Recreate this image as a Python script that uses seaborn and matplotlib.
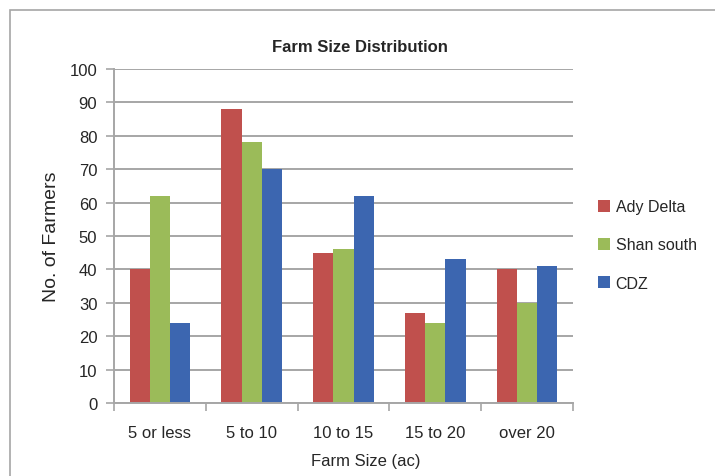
import pandas as pd
import matplotlib.pyplot as plt
import seaborn as sns
from matplotlib.patches import Rectangle

# --- data ---
categories = ["5 or less", "5 to 10", "10 to 15", "15 to 20", "over 20"]
ady_delta = [40, 88, 45, 27, 40]
shan_south = [62, 78, 46, 24, 30]
cdz = [24, 70, 62, 43, 41]
series_names = ["Ady Delta", "Shan south", "CDZ"]
colors = ["#C0504D", "#9BBB59", "#3C66B0"]
y_ticks = list(range(0, 101, 10))

df = pd.DataFrame({
    "Farm Size": categories * 3,
    "Region": [s for s in series_names for _ in categories],
    "Farmers": ady_delta + shan_south + cdz,
})

sns.set_theme(style="white")
plt.rcParams['font.family'] = ['Liberation Sans Narrow', 'Liberation Sans', 'DejaVu Sans']

fig = plt.figure(figsize=(7.15, 4.77), dpi=100)
ax = fig.add_axes([114 / 715, 1 - 404 / 477, (573 - 114) / 715, (404 - 70) / 477])

sns.barplot(data=df, x="Farm Size", y="Farmers", hue="Region", order=categories,
            hue_order=series_names, palette=colors, width=0.66, saturation=1,
            edgecolor="none", ax=ax, legend=True)

# grid + axes styling like the old Excel chart
ax.set_ylim(0, 100)
ax.set_yticks(y_ticks)
ax.yaxis.grid(True, color="#A6A6A6", linewidth=1.4)
ax.set_axisbelow(True)
for side in ["top", "right"]:
    ax.spines[side].set_visible(False)
for side in ["left", "bottom"]:
    ax.spines[side].set_color("#A6A6A6")
    ax.spines[side].set_linewidth(1.4)

ax.set_xlim(-0.5, len(categories) - 0.5)
ax.set_xticks([i - 0.5 for i in range(len(categories) + 1)], minor=False)
ax.set_xticklabels([])
ax.set_xticks(range(len(categories)), minor=True)
ax.set_xticklabels(categories, minor=True, fontsize=12)
ax.tick_params(axis="x", which="major", direction="out", length=6, width=1.2, color="#A6A6A6", bottom=True)
ax.tick_params(axis="x", which="minor", length=0, pad=16)
ax.tick_params(axis="y", direction="out", length=6, width=1.2, color="#A6A6A6", left=True,
               labelsize=12, pad=6)

ax.set_xlabel("")
ax.set_ylabel("")
fig.text(366 / 715, 1 - 462 / 477, "Farm Size (ac)", ha="center", va="center", fontsize=12)
fig.text(52 / 715, 1 - 237 / 477, "No. of Farmers", ha="center", va="center", rotation=90, fontsize=14)
fig.text(360 / 715, 1 - 47 / 477, "Farm Size Distribution", ha="center", va="center",
         fontsize=12, fontweight="bold")

handles, labels = ax.get_legend_handles_labels()
ax.legend_.remove()
fig.legend(handles, labels, loc="center left", bbox_to_anchor=(598 / 715, 1 - 246 / 477),
           frameon=False, fontsize=11.5, handlelength=0.75, handleheight=0.75,
           handletextpad=0.35, labelspacing=1.45, borderaxespad=0, borderpad=0)

# outer chart frame
fig.patches.append(Rectangle((10 / 715, -0.1), 1.2, 1 - 11 / 477 + 0.1, transform=fig.transFigure,
                             fill=False, edgecolor="#A6A6A6", linewidth=1.2))

fig.savefig("out.png", dpi=100)
